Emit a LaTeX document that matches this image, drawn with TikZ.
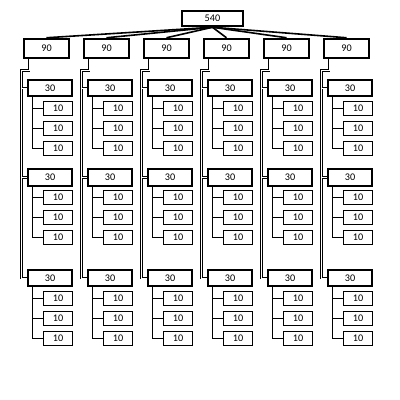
\documentclass[tikz,border=0pt]{standalone}
\usepackage{fontspec}
\setmainfont{Carlito}
\begin{document}
\begin{tikzpicture}[x=1pt,y=-1pt,
  every node/.style={font=\fontsize{10.2}{12}\selectfont, inner sep=0pt, fill=white},
  topbox/.style={draw, line width=2pt, minimum width=61pt, minimum height=15.5pt},
  ninety/.style={draw, line width=2pt, minimum width=45pt, minimum height=19.5pt},
  thirty/.style={draw, line width=2.4pt, minimum width=44pt, minimum height=16.5pt},
  ten/.style={draw, line width=1pt, minimum width=29pt, minimum height=14pt},
  dbl/.style={line width=1pt, double=white, double distance=0.9pt},
  thin/.style={line width=1pt},
  spoke/.style={line width=1.6pt}]
\useasboundingbox (0,0) rectangle (400,400);
\node[topbox] (top) at (212.5,18.5) {540};
\foreach \i in {0,...,5}{
  \pgfmathsetmacro{\dx}{60*\i}
  \node[ninety] (n\i) at (46.5+\dx,48.5) {90};
  \draw[spoke] (top.south) -- (n\i.north);
  \foreach \j/\cy in {1/88,2/177.5,3/278}{
    \node[thirty] (c\i-\j) at (50+\dx,\cy) {30};
    \foreach \k in {1,2,3}{
      \node[ten] (t\i-\j-\k) at (58+\dx,\cy+20*\k) {10};
      \draw[thin] ([xshift=6pt]c\i-\j.south west) |- (t\i-\j-\k.west);
    }
  }
  \draw[dbl] ([xshift=6pt]n\i.south west) -- ++(0,11) -| ([xshift=-5pt]c\i-3.west) -- (c\i-3.west);
  \draw[dbl] ([xshift=-5pt]c\i-1.west) -- (c\i-1.west);
  \draw[dbl] ([xshift=-5pt]c\i-2.west) -- (c\i-2.west);
}
\end{tikzpicture}
\end{document}
